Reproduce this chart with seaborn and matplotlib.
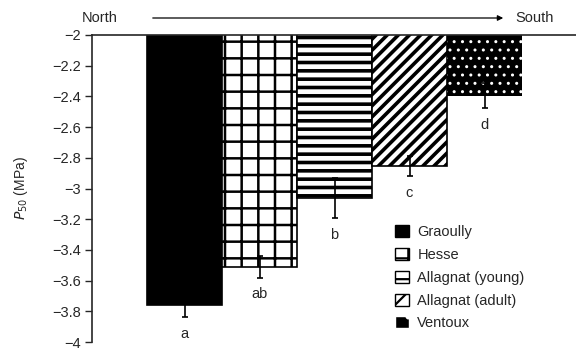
import matplotlib
matplotlib.use('Agg')
import matplotlib.pyplot as plt
import seaborn as sns
import pandas as pd
from matplotlib.patches import Patch

# Data
sites = ['Graoully', 'Hesse', 'Allagnat (young)', 'Allagnat (adult)', 'Ventoux']
p50 = [-3.76, -3.51, -3.06, -2.855, -2.395]
p50_err = [0.08, 0.07, 0.13, 0.065, 0.08]
letters = ['a', 'ab', 'b', 'c', 'd']
hatches = ['', '+', '--', '///', '..']
faces = ['black', 'white', 'white', 'white', 'black']
edges = ['black', 'black', 'black', 'black', 'white']

sns.set_style('ticks')
plt.rcParams['font.family'] = ['Liberation Sans', 'DejaVu Sans']
plt.rcParams['axes.unicode_minus'] = True
plt.rcParams['hatch.linewidth'] = 1.6

df = pd.DataFrame({'site': sites, 'p50': p50})

fig = plt.figure(figsize=(5.76, 3.49), dpi=100)
ax = fig.add_axes([92 / 576, 7 / 349, 1 - 92 / 576, 1 - 42 / 349])

sns.barplot(data=df, x='site', y='p50', color='white', width=1.0,
            edgecolor='black', linewidth=1.2, ax=ax)

hatch_lw = [1.6, 1.8, 2.6, 2.6, 1.0]
for i, bar in enumerate(ax.patches):
    bar.set_facecolor(faces[i])
    bar.set_edgecolor(edges[i])
    bar.set_hatch(hatches[i])
    if hasattr(bar, 'set_hatch_linewidth'):
        bar.set_hatch_linewidth(hatch_lw[i])
    if i == 4:
        bar.set_linewidth(0)

xs = range(len(sites))
ax.errorbar(xs, p50, yerr=p50_err, fmt='none', ecolor='black',
            elinewidth=1.2, capsize=2.5, capthick=1.2, zorder=5)
for i in xs:
    ax.text(i, p50[i] - p50_err[i] - 0.11, letters[i], ha='center',
            va='center', fontsize=10.5)

ax.set_ylim(-4, -2)
ax.set_xlim(-0.5 - 55 / 75, 4.5 + 54 / 75)
ax.set_yticks([-2, -2.2, -2.4, -2.6, -2.8, -3, -3.2, -3.4, -3.6, -3.8, -4])
ax.set_yticklabels(['\u22122', '\u22122.2', '\u22122.4', '\u22122.6', '\u22122.8',
                    '\u22123', '\u22123.2', '\u22123.4', '\u22123.6', '\u22123.8',
                    '\u22124'], fontsize=10.5)
ax.tick_params(axis='y', direction='out', length=5, width=1, pad=3)
ax.set_xticks([])
ax.set_xlabel('')
ax.set_ylabel(r'$P_{50}$ (MPa)', fontsize=10, labelpad=16)

for side in ['right', 'bottom']:
    ax.spines[side].set_visible(False)
ax.spines['top'].set_linewidth(1.2)
ax.spines['left'].set_linewidth(1.2)

# North -> South arrow
fig.text(100 / 576, 1 - 18 / 349, 'North', ha='center', va='center', fontsize=10.5)
fig.text(535 / 576, 1 - 18 / 349, 'South', ha='center', va='center', fontsize=10.5)
ax.annotate('', xy=(506 / 576, 1 - 18 / 349), xytext=(150 / 576, 1 - 18 / 349),
            xycoords='figure fraction', textcoords='figure fraction',
            arrowprops=dict(arrowstyle='-|>', color='black', lw=0.9,
                            mutation_scale=8))

handles = [Patch(facecolor=faces[i], edgecolor='black',
                 hatch=hatches[i].replace('///', '/'), label=sites[i]) for i in xs]
handles[4] = Patch(facecolor='black', edgecolor='white', hatch='.', label=sites[4])
leg = ax.legend(handles=handles, loc='upper left', bbox_to_anchor=(0.615, 0.4),
                frameon=False, fontsize=10.5, handlelength=0.9, handleheight=0.9,
                handletextpad=0.6, labelspacing=0.6, borderaxespad=0)

fig.savefig('out.png', dpi=100)
